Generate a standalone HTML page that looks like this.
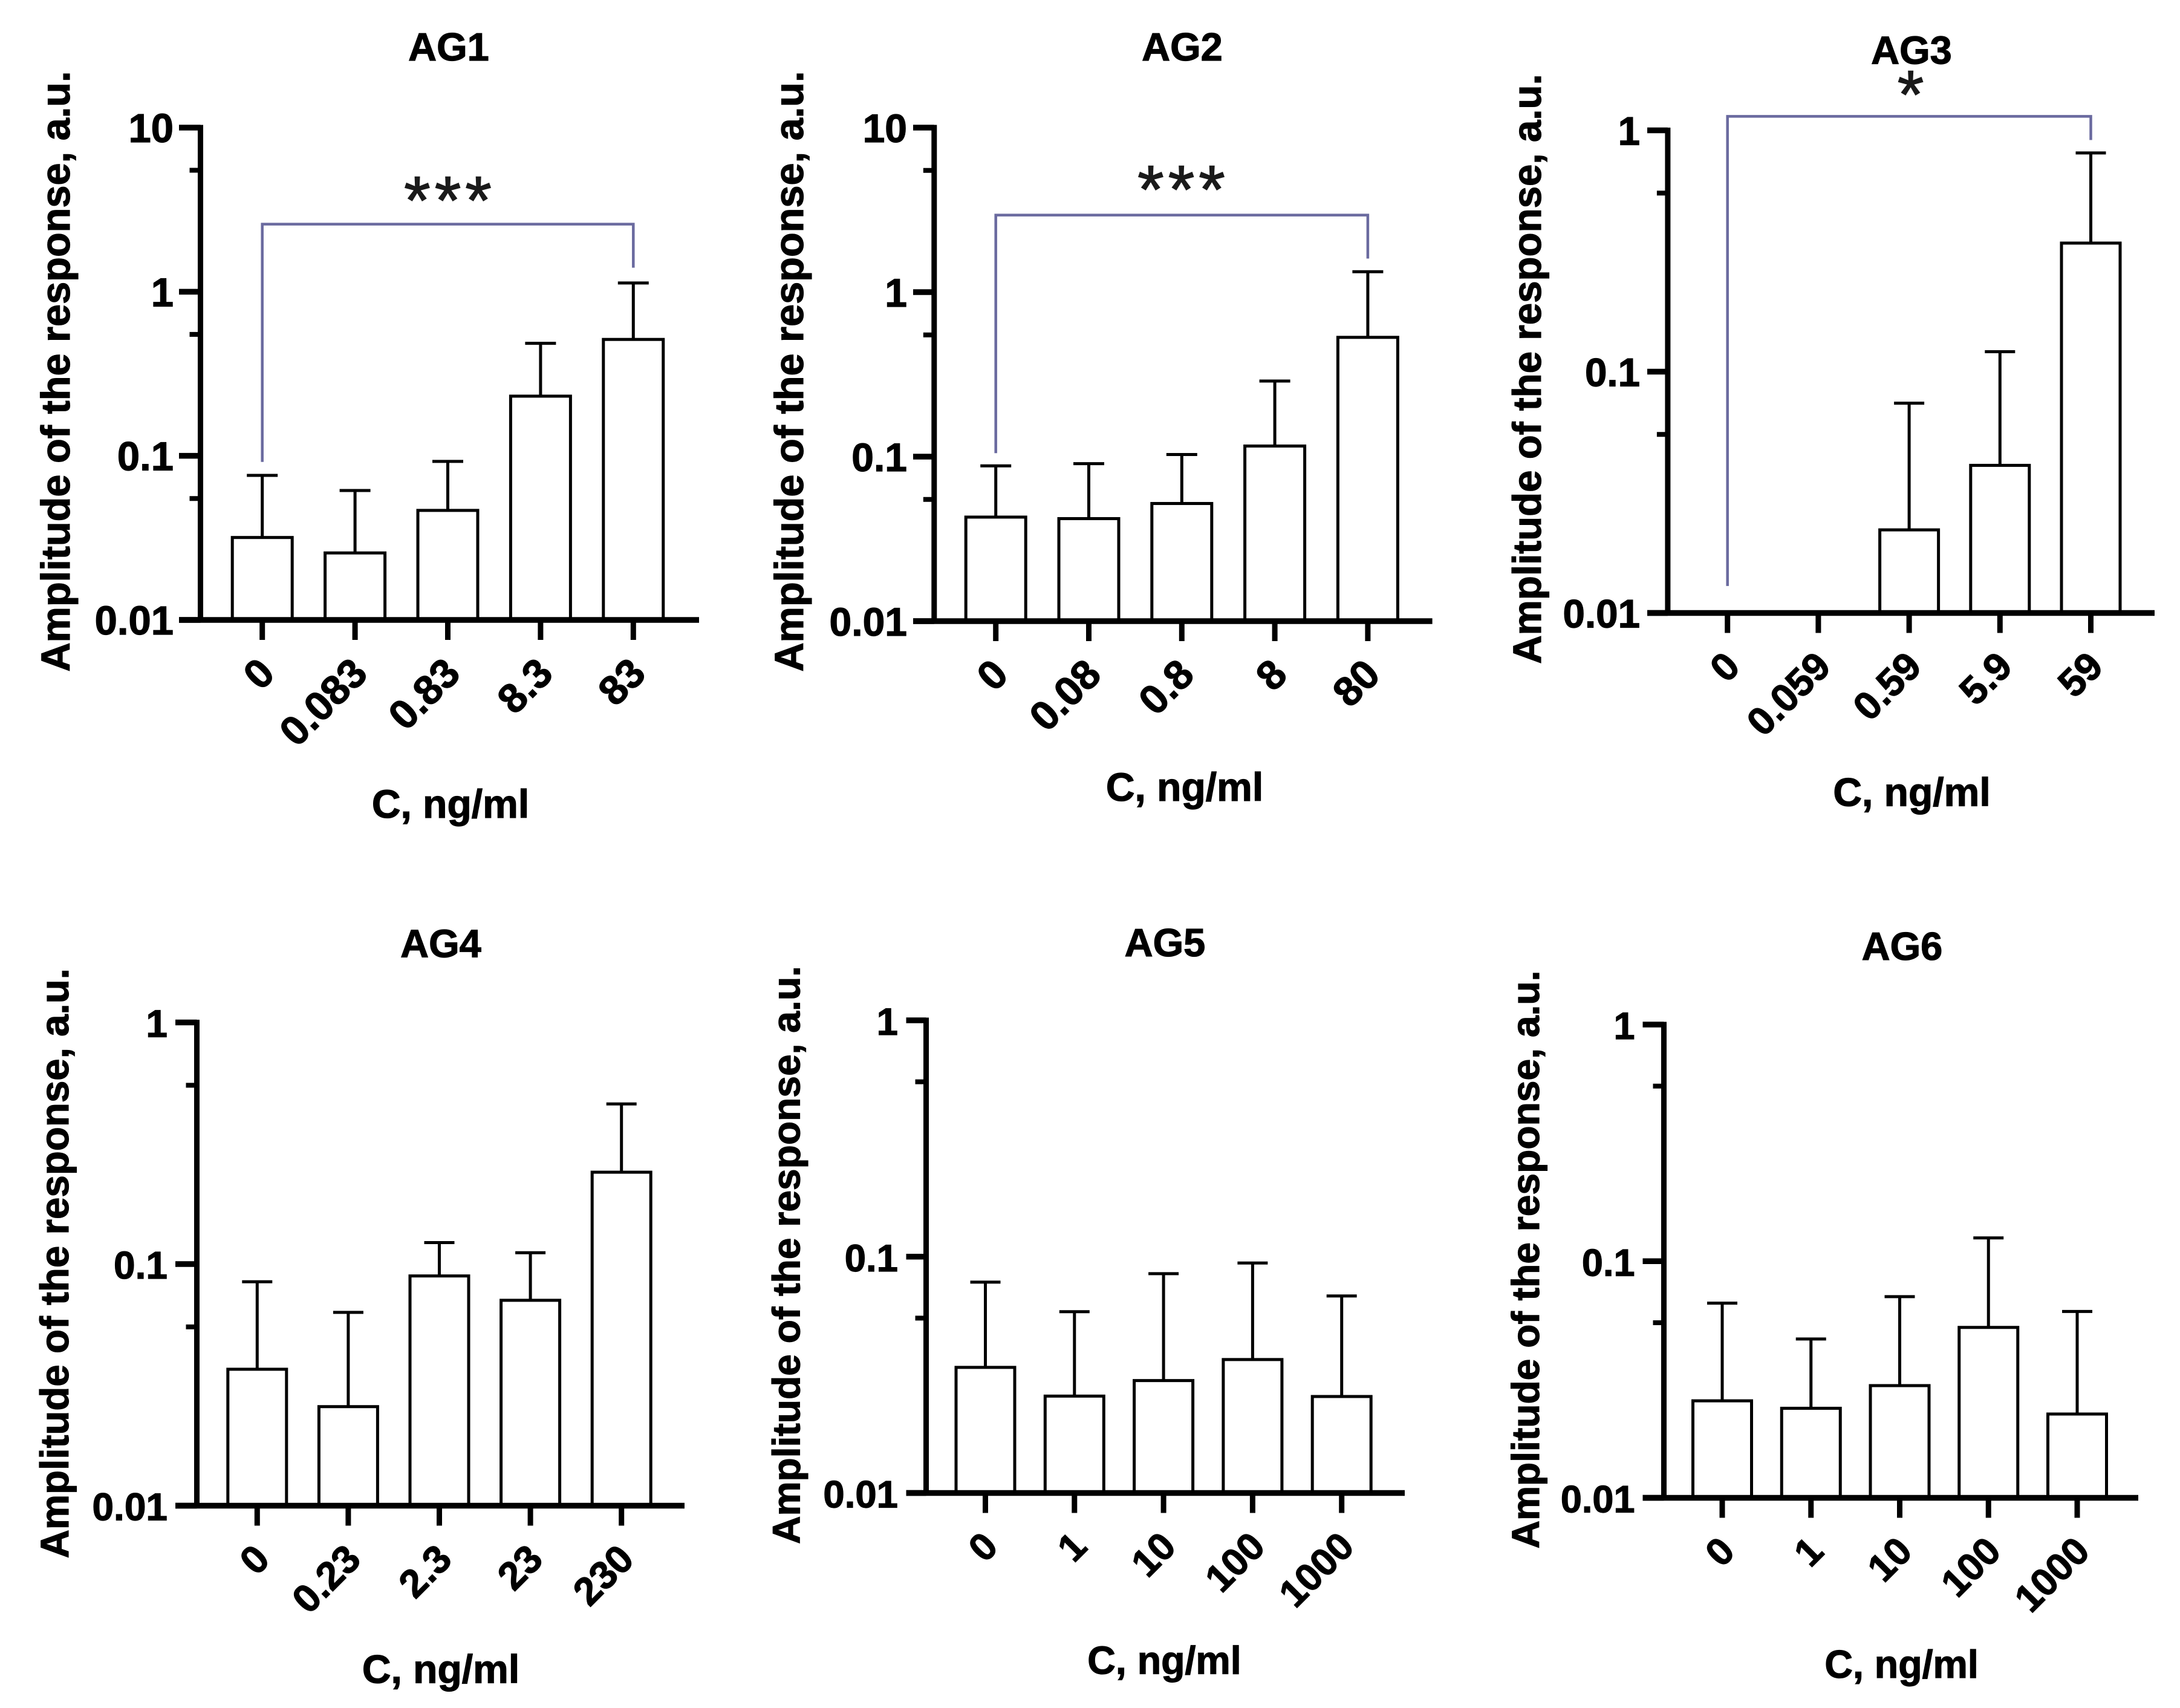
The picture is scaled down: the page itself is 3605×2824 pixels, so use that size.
<!DOCTYPE html>
<html lang="en">
<head>
<meta charset="utf-8">
<title>AG1–AG6 dose response</title>
<style>
html,body{margin:0;padding:0;background:#fff;width:3605px;height:2824px;overflow:hidden}
svg{display:block}
text{font-family:"Liberation Sans",Arial,sans-serif;font-weight:bold;fill:#000;stroke:#000;stroke-width:1.2}
</style>
</head>
<body>
<svg id="figure" xmlns="http://www.w3.org/2000/svg" width="3605" height="2824" viewBox="0 0 3605 2824">
<rect x="0" y="0" width="3605" height="2824" fill="#ffffff"/>
</svg>
<script>
// ---- chart data ----
const ag1Categories = ['0', '0.083', '0.83', '8.3', '83'];
const ag1Means = [0.0318, 0.0256, 0.0465, 0.231, 0.512];
const ag1Errors = [0.076, 0.0615, 0.0925, 0.485, 1.13];
const ag1Ticks = [0.01, 0.1, 1, 10];
const ag1Bracket = [0.0918, 2.58, 1.40];

const ag2Categories = ['0', '0.08', '0.8', '8', '80'];
const ag2Means = [0.0429, 0.042, 0.0519, 0.116, 0.531];
const ag2Errors = [0.0879, 0.0906, 0.103, 0.288, 1.33];
const ag2Ticks = [0.01, 0.1, 1, 10];
const ag2Bracket = [0.105, 2.94, 1.6];

const ag3Categories = ['0', '0.059', '0.59', '5.9', '59'];
const ag3Means = [null, null, 0.0221, 0.0409, 0.341];
const ag3Errors = [null, null, 0.074, 0.121, 0.806];
const ag3Ticks = [0.01, 0.1, 1];
const ag3Bracket = [0.01294, 1.143, 0.912];

const ag4Categories = ['0', '0.23', '2.3', '23', '230'];
const ag4Means = [0.0367, 0.0257, 0.0893, 0.0708, 0.24];
const ag4Errors = [0.0845, 0.0631, 0.1227, 0.1114, 0.46];
const ag4Ticks = [0.01, 0.1, 1];

const ag5Categories = ['0', '1', '10', '100', '1000'];
const ag5Means = [0.034, 0.0257, 0.0299, 0.0367, 0.0256];
const ag5Errors = [0.078, 0.0585, 0.0847, 0.094, 0.0682];
const ag5Ticks = [0.01, 0.1, 1];

const ag6Categories = ['0', '1', '10', '100', '1000'];
const ag6Means = [0.0257, 0.0239, 0.0298, 0.0525, 0.0226];
const ag6Errors = [0.0665, 0.0469, 0.0708, 0.1254, 0.0613];
const ag6Ticks = [0.01, 0.1, 1];

const minorTickFraction = 0.26;

// ---- panel layout ----
const panels = [
  {id:'ag1', title:'AG1', cats:ag1Categories, means:ag1Means, errs:ag1Errors, ticks:ag1Ticks, bracket:ag1Bracket, stars:'***',
   axisX:331.5, leftX:296, rightX:1156, top:211, base:1025, x0:433.7, step:153.4, barW:99, capW:51, labelGap:9, tickFont:67, xTickFont:68, xTitleFont:66,
   titleX:742, titleY:100, xTitleX:745, xTitleY:1352, yTitleX:115, yTitleY:614, yTitleSize:66.7, starX:744, starY:370},
  {id:'ag2', title:'AG2', cats:ag2Categories, means:ag2Means, errs:ag2Errors, ticks:ag2Ticks, bracket:ag2Bracket, stars:'***',
   axisX:1544.8, leftX:1510, rightX:2368.6, top:211, base:1027, x0:1646.7, step:153.8, barW:99, capW:51, labelGap:10, tickFont:66, xTickFont:68, xTitleFont:66,
   titleX:1955, titleY:100, xTitleX:1959, xTitleY:1324, yTitleX:1328, yTitleY:614, yTitleSize:66.7, starX:1957, starY:352},
  {id:'ag3', title:'AG3', cats:ag3Categories, means:ag3Means, errs:ag3Errors, ticks:ag3Ticks, bracket:ag3Bracket, stars:'*',
   axisX:2757.9, leftX:2724, rightX:3563, top:215.5, base:1013.5, x0:2856.7, step:150.2, barW:97, capW:50, labelGap:12, tickFont:65.5, xTickFont:65, xTitleFont:66,
   titleX:3161, titleY:105.5, xTitleX:3161.5, xTitleY:1332.6, yTitleX:2548, yTitleY:610, yTitleSize:65.5, starX:3163, starY:195},
  {id:'ag4', title:'AG4', cats:ag4Categories, means:ag4Means, errs:ag4Errors, ticks:ag4Ticks, bracket:null, stars:'',
   axisX:325.5, leftX:290, rightX:1132, top:1690.5, base:2489.5, x0:425.3, step:150.6, barW:97, capW:50, labelGap:13, tickFont:64, xTickFont:65, xTitleFont:66,
   titleX:729, titleY:1582.5, xTitleX:729, xTitleY:2782.5, yTitleX:113, yTitleY:2088.7, yTitleSize:65.5},
  {id:'ag5', title:'AG5', cats:ag5Categories, means:ag5Means, errs:ag5Errors, ticks:ag5Ticks, bracket:null, stars:'',
   axisX:1531.5, leftX:1498.5, rightX:2323, top:1687, base:2468.5, x0:1629.5, step:147.3, barW:97, capW:50, labelGap:13.5, tickFont:63.5, xTickFont:64, xTitleFont:64.5,
   titleX:1926.5, titleY:1580.75, xTitleX:1925.5, xTitleY:2767.6, yTitleX:1322.6, yTitleY:2075, yTitleSize:64.2},
  {id:'ag6', title:'AG6', cats:ag6Categories, means:ag6Means, errs:ag6Errors, ticks:ag6Ticks, bracket:null, stars:'',
   axisX:2751.5, leftX:2716.5, rightX:3536, top:1694, base:2476.5, x0:2848, step:146.75, barW:97, capW:50, labelGap:13, tickFont:63, xTickFont:64, xTitleFont:64.5,
   titleX:3145.5, titleY:1587, xTitleX:3144.6, xTitleY:2773.8, yTitleX:2545, yTitleY:2082.5, yTitleSize:64.2}
];

const NS = 'http://www.w3.org/2000/svg';
const figure = document.getElementById('figure');

function make(tag, parent, attrs) {
  const node = document.createElementNS(NS, tag);
  for (const key in attrs) node.setAttribute(key, attrs[key]);
  parent.appendChild(node);
  return node;
}

function yScale(p, v) {
  const lo = Math.log10(p.ticks[0]);
  const hi = Math.log10(p.ticks[p.ticks.length - 1]);
  return p.base - (Math.log10(v) - lo) * (p.base - p.top) / (hi - lo);
}

function xScale(p, i) {
  return p.x0 + i * p.step;
}

function drawPanel(p) {
  const g = make('g', figure, {});
  
  

  const title = make('text', g, {x:p.titleX, y:p.titleY, 'text-anchor':'middle', 'font-size':65});
  title.textContent = p.title;
  
  

  // bars and error bars
  p.means.forEach(function (mean, i) {
    if (mean === null) return;
    const cx = xScale(p, i);
    const yTop = yScale(p, mean);
    const yErr = yScale(p, p.errs[i]);

    const stem = make('line', g, {x1:cx, x2:cx, y1:yTop, y2:yErr, stroke:'#000', 'stroke-width':5});
    
    

    const cap = make('line', g, {x1:cx - p.capW / 2, x2:cx + p.capW / 2, y1:yErr, y2:yErr, stroke:'#000', 'stroke-width':5});
    
    

    const bar = make('rect', g, {x:cx - p.barW / 2, y:yTop, width:p.barW, height:p.base - yTop, fill:'#fff', stroke:'#000', 'stroke-width':5});
    
    
  });

  // y axis
  const yAxis = make('line', g, {x1:p.axisX, x2:p.axisX, y1:p.top - 4.5, y2:p.base + 4.5, stroke:'#000', 'stroke-width':9});
  
  

  // x axis
  const xAxis = make('line', g, {x1:p.leftX, x2:p.rightX, y1:p.base, y2:p.base, stroke:'#000', 'stroke-width':9.5});
  
  

  // y ticks
  p.ticks.forEach(function (v, i) {
    const y = yScale(p, v);
    const tick = make('line', g, {x1:p.leftX, x2:p.axisX, y1:y, y2:y, stroke:'#000', 'stroke-width':9.5});
    
    

    const label = make('text', g, {x:p.leftX - p.labelGap, y:y + 24, 'text-anchor':'end', 'font-size':p.tickFont});
    label.textContent = String(v);
    
    

    if (i > 0) {
      const yMinor = yScale(p, v * Math.pow(10, -minorTickFraction));
      const minor = make('line', g, {x1:p.axisX - 18, x2:p.axisX, y1:yMinor, y2:yMinor, stroke:'#000', 'stroke-width':8});
      
      
    }
  });

  // x ticks
  p.cats.forEach(function (cat, i) {
    const cx = xScale(p, i);
    const tick = make('line', g, {x1:cx, x2:cx, y1:p.base, y2:p.base + 33, stroke:'#000', 'stroke-width':9});
    
    

    const lx = cx + 24;
    const ly = p.base + 92;
    const label = make('text', g, {x:lx, y:ly, 'text-anchor':'end', 'font-size':p.xTickFont, transform:'rotate(-45 ' + lx + ' ' + ly + ')'});
    label.textContent = cat;
    
    
  });

  const xTitle = make('text', g, {x:p.xTitleX, y:p.xTitleY, 'text-anchor':'middle', 'font-size':p.xTitleFont});
  xTitle.textContent = 'C, ng/ml';
  
  

  const yTitle = make('text', g, {x:p.yTitleX, y:p.yTitleY, 'text-anchor':'middle', 'font-size':p.yTitleSize, transform:'rotate(-90 ' + p.yTitleX + ' ' + p.yTitleY + ')'});
  yTitle.textContent = 'Amplitude of the response, a.u.';
  
  

  // significance bracket
  if (p.bracket) {
    const xL = xScale(p, 0);
    const xR = xScale(p, p.cats.length - 1);
    const pts = [[xL, yScale(p, p.bracket[0])], [xL, yScale(p, p.bracket[1])], [xR, yScale(p, p.bracket[1])], [xR, yScale(p, p.bracket[2])]];
    const bracket = make('polyline', g, {points:pts.map(function (q) { return q.join(','); }).join(' '), fill:'none', stroke:'#6a6a9f', 'stroke-width':4.5, 'stroke-linejoin':'miter'});
    
    

    const stars = make('text', g, {x:p.starX, y:p.starY, 'text-anchor':'middle', 'font-size':112, 'letter-spacing':7});
    stars.setAttribute('style', 'font-weight:normal;fill:#1a1a1a;stroke:#1a1a1a;stroke-width:1.5');
    stars.textContent = p.stars;
    
    
  }
}

panels.forEach(drawPanel);
</script>
</body>
</html>
